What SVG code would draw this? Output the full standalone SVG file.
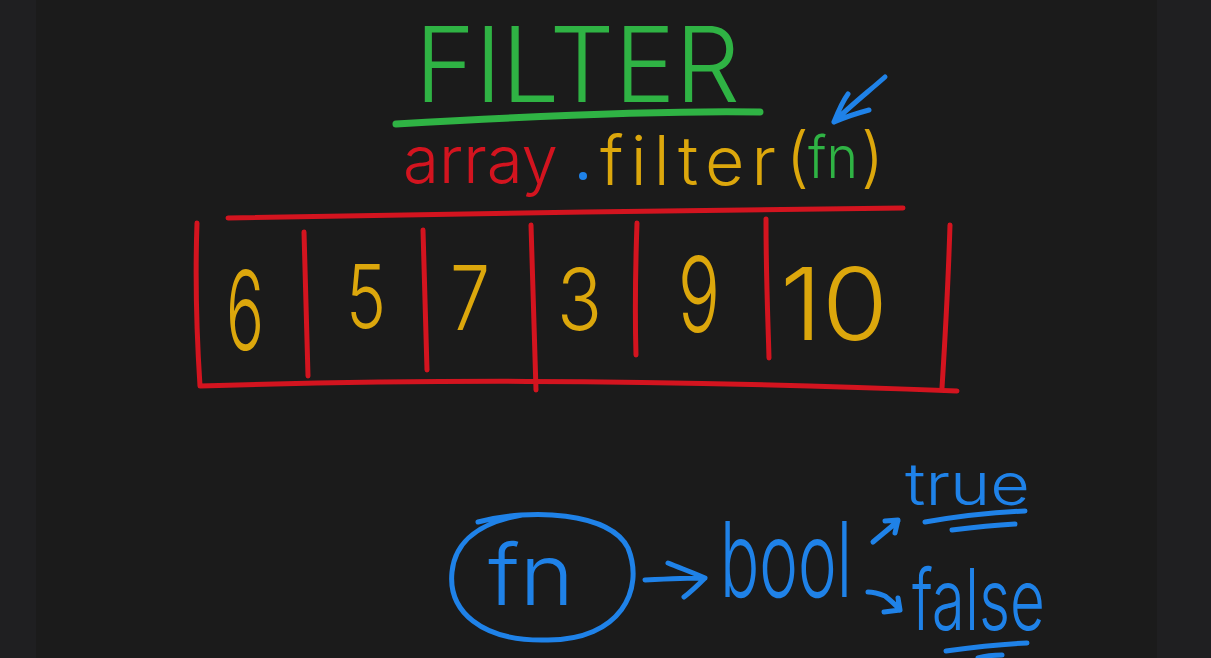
<svg xmlns="http://www.w3.org/2000/svg" width="1211" height="658" viewBox="0 0 1211 658">
<style>
.pen{fill:none;stroke-linecap:round;stroke-linejoin:round}
.red{stroke:#d3141f;stroke-width:5}
.blue{stroke:#1f82e8;stroke-width:5}
.green{stroke:#2fb344;stroke-width:7}
.t{font-family:"Inter","Open Sans","Liberation Sans",sans-serif;font-weight:300}
.ty{fill:#dca70c}
.tr{fill:#d3141f}
.tg{fill:#2fb344}
.tb{fill:#1f82e8}
</style>
<rect x="0" y="0" width="1211" height="658" fill="#1b1b1b"/>
<rect x="0" y="0" width="36" height="658" fill="#1f1f21"/>
<rect x="1157" y="0" width="54" height="658" fill="#1f1f21"/>

<g id="title">
<text class="t tg" x="415" y="102" font-size="104" textLength="325" lengthAdjust="spacingAndGlyphs">FILTER</text>
<path class="pen green" d="M396 124 C500 118 650 110 760 112"/>
</g>

<g id="call">
<text class="t tr" x="403" y="183" font-size="66" textLength="155" lengthAdjust="spacingAndGlyphs" font-weight="400">array</text>
<circle cx="583" cy="176" r="4" fill="#1f82e8"/>
<text class="t ty" x="600" y="185" font-size="68" textLength="176" lengthAdjust="spacing" font-weight="400">filter</text>
<text class="t ty" x="786" y="180" font-size="66" font-weight="400">(</text>
<text class="t tg" x="808" y="178" font-size="58" textLength="50" lengthAdjust="spacingAndGlyphs" font-weight="400">fn</text>
<text class="t ty" x="861" y="180" font-size="66" font-weight="400">)</text>
</g>

<g id="array-box">
<path class="pen red" d="M228 218 C420 214 700 210 903 208"/>
<path class="pen red" d="M197 223 C195 280 197 340 200 386 C400 380 620 378 957 391"/>
<path class="pen red" d="M950 225 C948 290 945 340 942 388"/>
<path class="pen red" d="M304 232 C306 290 307 340 308 376"/>
<path class="pen red" d="M423 230 C425 290 426 340 427 370"/>
<path class="pen red" d="M531 225 C533 300 535 350 536 390"/>
<path class="pen red" d="M637 223 C635 280 635 320 636 355"/>
<path class="pen red" d="M766 219 C766 280 768 320 769 358"/>
</g>

<g id="values">
<text class="t ty" x="226" y="350" font-size="110" textLength="38" lengthAdjust="spacingAndGlyphs">6</text>
<text class="t ty" x="346" y="328" font-size="88" textLength="40" lengthAdjust="spacingAndGlyphs">5</text>
<text class="t ty" x="450" y="330" font-size="90" textLength="40" lengthAdjust="spacingAndGlyphs">7</text>
<text class="t ty" x="557" y="330" font-size="85" textLength="45" lengthAdjust="spacingAndGlyphs">3</text>
<text class="t ty" x="678" y="332" font-size="105" textLength="42" lengthAdjust="spacingAndGlyphs">9</text>
<text class="t ty" x="780" y="340" font-size="100" textLength="108" lengthAdjust="spacingAndGlyphs">10</text>
</g>

<g id="fn-node">
<path class="pen blue" d="M478 522 C530 508 610 512 628 548 C645 590 620 640 548 640 C480 642 448 610 452 572 C455 540 482 522 522 515"/>
<text class="t tb" x="488" y="605" font-size="85" textLength="86" lengthAdjust="spacingAndGlyphs">fn</text>
</g>

<g id="bool-node">
<text class="t tb" x="720" y="597" font-size="105" textLength="132" lengthAdjust="spacingAndGlyphs">bool</text>
</g>

<g id="true-node">
<text class="t tb" x="905" y="505" font-size="58" textLength="125" lengthAdjust="spacingAndGlyphs" font-weight="400">true</text>
<path class="pen blue" d="M925 522 C960 516 1000 512 1025 511"/>
<path class="pen blue" d="M952 530 C975 527 995 525 1015 524"/>
</g>

<g id="false-node">
<text class="t tb" x="912" y="630" font-size="85" textLength="133" lengthAdjust="spacingAndGlyphs">false</text>
<path class="pen blue" d="M946 651 C975 647 1005 644 1027 643"/>
<path class="pen blue" d="M978 658 C985 656 995 655 1002 655"/>
</g>

<g id="connectors">
<path class="pen blue" d="M885 77 C868 92 850 106 834 122 M834 122 C838 112 842 102 848 94 M834 122 C845 117 858 113 869 110"/>
<path class="pen blue" d="M645 580 C665 579 688 578 705 578 M668 563 C680 568 694 573 705 578 C698 585 692 591 684 597"/>
<path class="pen blue" d="M873 542 C880 536 890 528 898 521 M885 521 L898 520 L895 533"/>
<path class="pen blue" d="M868 592 C875 592 880 594 885 596 C890 600 895 604 900 610 M884 612 L900 610 L898 598"/>
</g>
</svg>
